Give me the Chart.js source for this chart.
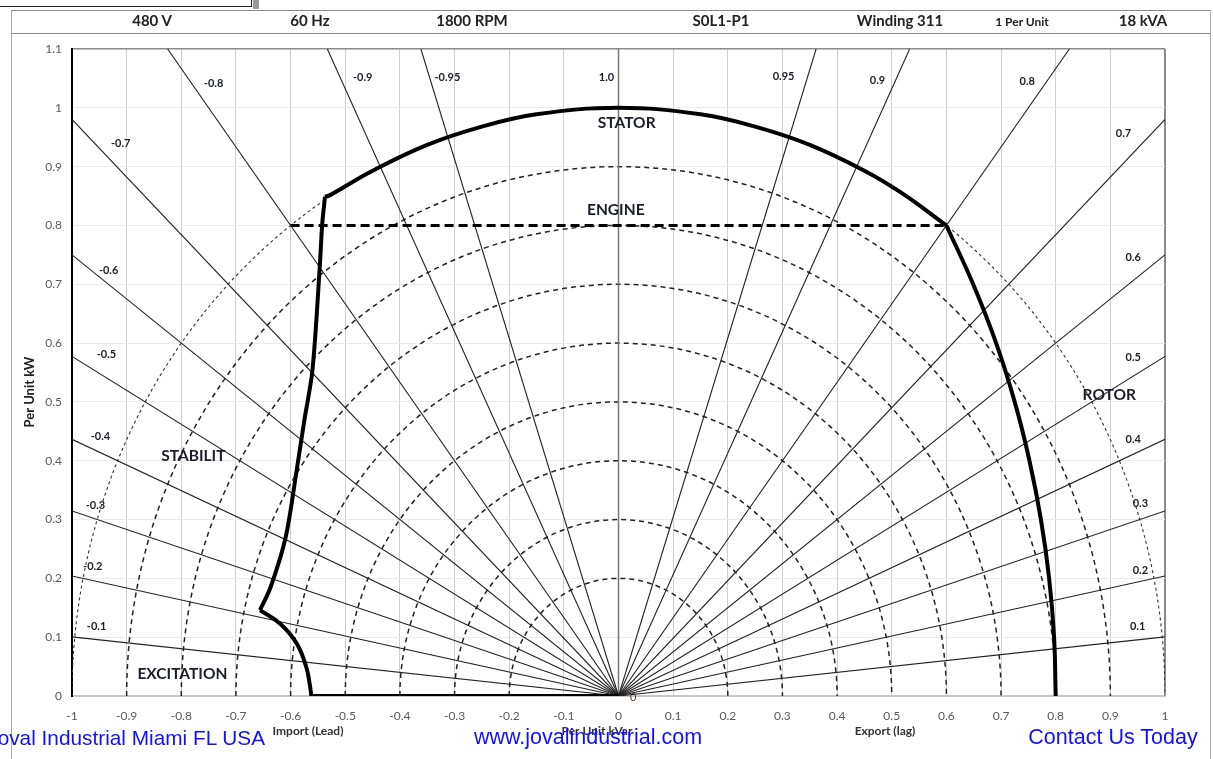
<!DOCTYPE html>
<html>
<head>
<meta charset="utf-8">
<script src="https://cdn.jsdelivr.net/npm/chart.js@4/dist/chart.umd.min.js"></script>
<style>
  html, body { margin: 0; padding: 0; background: #fff; }
  #page { position: relative; width: 1213px; height: 759px; overflow: hidden; background: #fff; font-family: Lato, "Open Sans", sans-serif; }
  #chartCanvas { position: absolute; left: 0; top: 0; }
  .hdr { position: absolute; top: 11px; font-weight: bold; font-size: 15px; color: #222; transform: translateX(-50%); white-space: nowrap; }
  .blue { position: absolute; top: 725px; font-family: "Liberation Sans", Arial, sans-serif; font-size: 21.5px; color: #1010ff; white-space: nowrap; }
  .line { position: absolute; background: #8a8a8a; }
</style>
</head>
<body>
<div id="page">
  <canvas id="chartCanvas" width="1213" height="759"></canvas>

  <!-- 상단 박스 조각 -->
  <div style="position:absolute;left:-2px;top:-2px;width:252px;height:7px;border:1.5px solid #222;background:#fff;"></div>
  <div style="position:absolute;left:253px;top:0;width:6px;height:9px;background:#9a9a9a;"></div>

  <!-- 외곽 프레임 -->
  <div class="line" style="left:11px;top:10px;width:1200px;height:1px;"></div>
  <div class="line" style="left:11px;top:33px;width:1200px;height:1px;"></div>
  <div class="line" style="left:11px;top:10px;width:1px;height:749px;background:#aaa;"></div>
  <div class="line" style="left:1210px;top:10px;width:1px;height:749px;background:#aaa;"></div>

  <div class="hdr" style="left:152px;">480 V</div>
  <div class="hdr" style="left:310px;">60 Hz</div>
  <div class="hdr" style="left:472px;">1800 RPM</div>
  <div class="hdr" style="left:721px;">S0L1-P1</div>
  <div class="hdr" style="left:900px;">Winding 311</div>
  <div class="hdr" style="left:1022px;top:14px;font-size:12px;">1 Per Unit</div>
  <div class="hdr" style="left:1143px;">18 kVA</div>

  <div class="blue" style="right:948px;font-size:20.8px;top:726px;">Joval Industrial Miami FL USA</div>
  <div class="blue" style="left:588px;transform:translateX(-50%);">www.jovalindustrial.com</div>
  <div class="blue" style="left:1113px;transform:translateX(-50%);">Contact Us Today</div>
</div>

<script>
// 축 범위
const xMin = -1, xMax = 1, xStep = 0.1;
const yMin = 0, yMax = 1.1, yStep = 0.1;

// 역률 선
const pfValues = [0.1, 0.2, 0.3, 0.4, 0.5, 0.6, 0.7, 0.8, 0.9, 0.95];
const pfUnity = 1.0;

// 원호 반지름
const arcRadii = [0.2, 0.3, 0.4, 0.5, 0.6, 0.7, 0.8, 0.9];
const outerRadius = 1.0;

// 운전 한계 곡선
const bottomQ = [-0.562, 0];
const bottomP = [0, 0];

const excitationQ = [-0.562, -0.565, -0.571, -0.588, -0.618, -0.656];
const excitationP = [0, 0.02, 0.048, 0.088, 0.122, 0.146];

const stabilityQ = [-0.656, -0.637, -0.609, -0.589, -0.575, -0.560, -0.547, -0.542, -0.537];
const stabilityP = [0.146, 0.184, 0.27, 0.383, 0.468, 0.554, 0.724, 0.804, 0.849];

const statorQ = [-0.537, -0.527, -0.45, -0.35, -0.25, -0.15, 0, 0.15, 0.25, 0.35, 0.45, 0.52, 0.6];
const statorP = [0.849, 0.852, 0.893, 0.937, 0.968, 0.989, 1.0, 0.989, 0.968, 0.937, 0.893, 0.854, 0.8];

const rotorQ = [0.6, 0.649, 0.691, 0.725, 0.752, 0.773, 0.788, 0.797, 0.8];
const rotorP = [0.8, 0.7, 0.6, 0.5, 0.4, 0.3, 0.2, 0.1, 0];

const engineQ = [-0.6, 0.6];
const engineP = [0.8, 0.8];

// 라벨 텍스트
const regionLabels = ['STATOR', 'ENGINE', 'ROTOR', 'STABILIT', 'EXCITATION'];
const pfLabelsTop = ['-0.8', '-0.9', '-0.95', '1.0', '0.95', '0.9', '0.8'];
const pfLabelsRight = ['0.7', '0.6', '0.5', '0.4', '0.3', '0.2', '0.1'];
const pfLabelsLeft = ['-0.7', '-0.6', '-0.5', '-0.4', '-0.3', '-0.2', '-0.1'];

// 라벨 위치 (데이터 좌표)
const regionPos = [[0.015, 0.975], [-0.005, 0.826], [0.898, 0.511], [-0.778, 0.408], [-0.798, 0.037]];
const topPos = [[-0.741, 1.042], [-0.468, 1.051], [-0.313, 1.051], [-0.022, 1.051], [0.302, 1.053], [0.474, 1.046], [0.748, 1.044]];
const rightPos = [[0.924, 0.956], [0.942, 0.746], [0.942, 0.576], [0.942, 0.437], [0.955, 0.328], [0.955, 0.214], [0.950, 0.118]];
const leftPos = [[-0.911, 0.940], [-0.933, 0.724], [-0.937, 0.580], [-0.948, 0.442], [-0.957, 0.324], [-0.962, 0.220], [-0.955, 0.118]];

function toPoints(qs, ps) {
    return qs.map((q, i) => ({ x: q, y: ps[i] }));
}

// 역률선 끝점: 플롯 경계까지
function pfLine(pf, side) {
    const q = Math.sqrt(1 - pf * pf);
    const p = pf;
    let t = yMax / p;
    if (q > 0) t = Math.min(t, xMax / q);
    return [{ x: 0, y: 0 }, { x: side * q * t, y: p * t }];
}

const datasets = [];

// 굵은 곡선
const thick = { borderColor: '#000', borderWidth: 4, pointRadius: 0, showLine: true, fill: false, order: 0 };
datasets.push(Object.assign({ data: toPoints(bottomQ, bottomP), tension: 0 }, thick));
datasets.push(Object.assign({ data: toPoints(excitationQ, excitationP), tension: 0.4 }, thick));
datasets.push(Object.assign({ data: toPoints(stabilityQ, stabilityP), tension: 0.3 }, thick));
datasets.push(Object.assign({ data: toPoints(statorQ, statorP), tension: 0.4 }, thick));
datasets.push(Object.assign({ data: toPoints(rotorQ, rotorP), tension: 0.4 }, thick));
datasets.push({
    data: toPoints(engineQ, engineP), borderColor: '#000', borderWidth: 3, borderDash: [9, 5],
    pointRadius: 0, showLine: true, order: 1
});

// 역률선
pfValues.forEach(pf => {
    [-1, 1].forEach(side => {
        datasets.push({
            data: pfLine(pf, side), borderColor: '#222', borderWidth: 1.1,
            pointRadius: 0, showLine: true, order: 10
        });
    });
});
datasets.push({
    data: pfLine(pfUnity, 1), borderColor: '#777', borderWidth: 1.5,
    pointRadius: 0, showLine: true, order: 10
});

// 점선 원호 플러그인
const arcPlugin = {
    id: 'arcs',
    beforeDatasetsDraw(chart) {
        const { ctx, chartArea, scales: { x, y } } = chart;
        const cx = x.getPixelForValue(0);
        const cy = y.getPixelForValue(0);
        ctx.save();
        ctx.beginPath();
        ctx.rect(chartArea.left, chartArea.top, chartArea.right - chartArea.left, chartArea.bottom - chartArea.top);
        ctx.clip();

        ctx.strokeStyle = '#222';
        ctx.lineWidth = 1.5;
        ctx.setLineDash([5, 4]);
        arcRadii.forEach(r => {
            const rx = x.getPixelForValue(r) - cx;
            const ry = cy - y.getPixelForValue(r);
            ctx.beginPath();
            ctx.ellipse(cx, cy, rx, ry, 0, Math.PI, 2 * Math.PI);
            ctx.stroke();
        });

        ctx.lineWidth = 1.1;
        ctx.strokeStyle = '#333';
        ctx.setLineDash([3, 3]);
        const rx = x.getPixelForValue(outerRadius) - cx;
        const ry = cy - y.getPixelForValue(outerRadius);
        ctx.beginPath();
        ctx.ellipse(cx, cy, rx, ry, 0, Math.PI, 2 * Math.PI);
        ctx.stroke();
        ctx.restore();
    }
};

// 텍스트 플러그인
const textPlugin = {
    id: 'texts',
    afterDatasetsDraw(chart) {
        const { ctx, scales: { x, y } } = chart;
        ctx.save();
        ctx.textAlign = 'center';
        ctx.textBaseline = 'middle';

        ctx.fillStyle = '#1a1d2a';
        ctx.font = 'bold 15.5px Lato, sans-serif';
        regionLabels.forEach((t, i) => {
            ctx.fillText(t, x.getPixelForValue(regionPos[i][0]), y.getPixelForValue(regionPos[i][1]));
        });

        ctx.font = 'bold 11px Lato, sans-serif';
        const groups = [[pfLabelsTop, topPos], [pfLabelsRight, rightPos], [pfLabelsLeft, leftPos]];
        groups.forEach(([labels, pos]) => {
            labels.forEach((t, i) => {
                ctx.fillText(t, x.getPixelForValue(pos[i][0]), y.getPixelForValue(pos[i][1]));
            });
        });

        ctx.font = '11px Lato, sans-serif';
        ctx.fillStyle = '#5a3a2a';
        ctx.fillText('0', x.getPixelForValue(0.027), y.getPixelForValue(-0.003));

        // 축 제목
        ctx.fillStyle = '#222';
        ctx.font = 'bold 13px Lato, sans-serif';
        ctx.save();
        ctx.translate(30, 392);
        ctx.rotate(-Math.PI / 2);
        ctx.fillText('Per Unit kW', 0, 0);
        ctx.restore();

        ctx.font = 'bold 12px Lato, sans-serif';
        ctx.fillStyle = '#333';
        ctx.fillText('Per Unit kVar', 597, 731);
        ctx.fillText('Import (Lead)', 308, 731);
        ctx.fillText('Export (lag)', 885, 731);
        ctx.restore();
    }
};

function fmtTick(v) {
    return String(Math.round(v * 10) / 10);
}

const ctx = document.getElementById('chartCanvas').getContext('2d');
window.capabilityChart = new Chart(ctx, {
    type: 'scatter',
    data: { datasets: datasets },
    options: {
        responsive: false,
        animation: false,
        layout: { padding: { top: 49, right: 48, left: 0, bottom: 0 } },
        plugins: { legend: { display: false }, tooltip: { enabled: false } },
        scales: {
            x: {
                type: 'linear', min: xMin, max: xMax,
                afterFit(scale) { scale.height = 63; },
                ticks: { stepSize: xStep, padding: 13, color: '#595959', font: { family: 'Lato', size: 12 }, callback: fmtTick },
                grid: {
                    drawTicks: false,
                    color: c => Math.abs(c.tick.value - xMax) < 1e-6 ? '#8a8a8a' : '#cfcfcf',
                    lineWidth: c => Math.abs(c.tick.value - xMax) < 1e-6 ? 2 : 1
                },
                border: { display: true, color: '#c8c8c8', width: 2 }
            },
            y: {
                type: 'linear', min: yMin, max: yMax,
                afterFit(scale) { scale.width = 72; },
                ticks: { stepSize: yStep, padding: 10, color: '#595959', font: { family: 'Lato', size: 12 }, callback: fmtTick },
                grid: {
                    drawTicks: false,
                    color: c => Math.abs(c.tick.value - yMax) < 1e-6 ? '#8a8a8a' : '#ebebeb',
                    lineWidth: c => Math.abs(c.tick.value - yMax) < 1e-6 ? 1.5 : 1
                },
                border: { display: true, color: '#000', width: 2 }
            }
        }
    },
    plugins: [arcPlugin, textPlugin]
});
</script>
</body>
</html>
